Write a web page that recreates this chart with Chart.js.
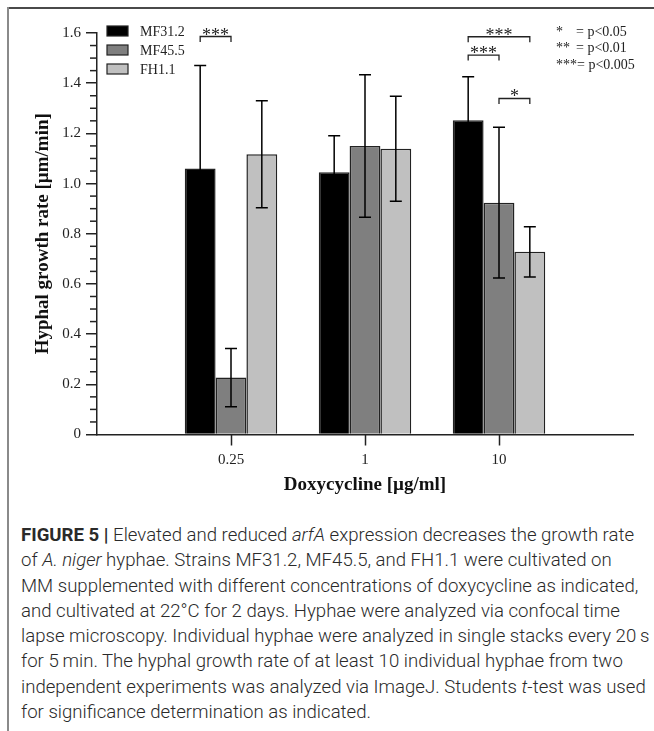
<!DOCTYPE html>
<html><head><meta charset="utf-8">
<script src="https://cdn.jsdelivr.net/npm/chart.js@4.4.1/dist/chart.umd.min.js"></script>
<style>
html,body{margin:0;padding:0;background:#fff;}
#wrap{position:relative;width:654px;height:731px;overflow:hidden;background:#fff;}
#c{position:absolute;left:0;top:0;}
.ftop{position:absolute;left:7px;top:7px;width:647px;height:2px;background:#4a4a4a;}
.fleft{position:absolute;left:7px;top:7px;width:2px;height:724px;background:#8a8a8a;}
#cap{position:absolute;left:21px;top:523px;font-family:Roboto,"Liberation Sans",sans-serif;font-weight:300;font-size:18.6px;line-height:25.3px;color:#2a2a2a;white-space:nowrap;}
#cap b{font-weight:700;}
</style></head><body>
<div id="wrap">
<canvas id="c" width="654" height="500"></canvas>
<div class="ftop"></div><div class="fleft"></div>
<div id="cap"><b>FIGURE 5 |</b> Elevated and reduced <i>arfA</i> expression decreases the growth rate<br>of <i>A. niger</i> hyphae. Strains MF31.2, MF45.5, and FH1.1 were cultivated on<br>MM supplemented with different concentrations of doxycycline as indicated,<br>and cultivated at 22°C for 2 days. Hyphae were analyzed via confocal time<br>lapse microscopy. Individual hyphae were analyzed in single stacks every 20&#8201;s<br>for 5&#8201;min. The hyphal growth rate of at least 10 individual hyphae from two<br>independent experiments was analyzed via ImageJ. Students <i>t</i>-test was used<br>for significance determination as indicated.</div>
</div>
<script>
const categories = ['', '0.25', '1', '10', ''];
const seriesNames = ['MF31.2', 'MF45.5', 'FH1.1'];
const mf312 = [null, 1.06, 1.045, 1.252, null];
const mf312Err = [null, 0.41, 0.146, 0.174, null];
const mf455 = [null, 0.227, 1.150, 0.924, null];
const mf455Err = [null, 0.116, 0.284, 0.300, null];
const fh11 = [null, 1.117, 1.139, 0.728, null];
const fh11Err = [null, 0.213, 0.209, 0.100, null];
const yMin = 0, yMax = 1.6, yStep = 0.2, yMinorStep = 0.05;
const sigBrackets = [
  {cat: 1, from: 0, to: 1, y: 1.586, label: '***'},
  {cat: 3, from: 0, to: 2, y: 1.585, label: '***'},
  {cat: 3, from: 0, to: 1, y: 1.512, label: '***'},
  {cat: 3, from: 1, to: 2, y: 1.339, label: '*'}
];
const pLegend = [['*', '= p<0.05'], ['**', '= p<0.01'], ['***= p<0.005', '']];
const xTitle = 'Doxycycline [µg/ml]';
const yTitle = 'Hyphal growth rate [µm/min]';

const errs = [mf312Err, mf455Err, fh11Err];
const SERIF = '"Liberation Serif","Times New Roman",serif';
const AX = '#222';

const errorBars = {
  id: 'errorBars',
  afterDatasetsDraw(chart) {
    const ctx = chart.ctx, ys = chart.scales.y;
    ctx.save();
    ctx.strokeStyle = '#000'; ctx.lineWidth = 1.5;
    chart.data.datasets.forEach((ds, di) => {
      const meta = chart.getDatasetMeta(di);
      meta.data.forEach((el, i) => {
        const v = ds.data[i], e = errs[di][i];
        if (v == null || e == null) return;
        const yt = ys.getPixelForValue(v + e), yb = ys.getPixelForValue(v - e);
        ctx.beginPath();
        ctx.moveTo(el.x, yt); ctx.lineTo(el.x, yb);
        ctx.moveTo(el.x - 6, yt); ctx.lineTo(el.x + 6, yt);
        ctx.moveTo(el.x - 6, yb); ctx.lineTo(el.x + 6, yb);
        ctx.stroke();
      });
    });
    ctx.restore();
  }
};

const extras = {
  id: 'extras',
  afterDraw(chart) {
    const ctx = chart.ctx, ys = chart.scales.y, xs = chart.scales.x, area = chart.chartArea;
    ctx.save();
    ctx.strokeStyle = AX; ctx.lineWidth = 1.5;
    for (let k = 0; k <= Math.round((yMax - yMin) / yMinorStep); k++) {
      if (k % 4 === 0) continue;
      const py = ys.getPixelForValue(yMin + k * yMinorStep);
      ctx.beginPath(); ctx.moveTo(area.left - 7, py); ctx.lineTo(area.left, py); ctx.stroke();
    }
    categories.forEach((c, i) => {
      if (!c) return;
      const px = Math.round(xs.getPixelForValue(i)) + 0.5;
      ctx.beginPath(); ctx.moveTo(px, area.bottom); ctx.lineTo(px, area.bottom + 11); ctx.stroke();
    });
    ctx.lineWidth = 1.3; ctx.strokeStyle = '#222'; ctx.fillStyle = '#222';
    ctx.font = '18px ' + SERIF; ctx.textAlign = 'center'; ctx.textBaseline = 'alphabetic';
    sigBrackets.forEach(b => {
      const x1 = chart.getDatasetMeta(b.from).data[b.cat].x;
      const x2 = chart.getDatasetMeta(b.to).data[b.cat].x;
      const py = ys.getPixelForValue(b.y);
      ctx.beginPath();
      ctx.moveTo(x1, py + 5.5); ctx.lineTo(x1, py); ctx.lineTo(x2, py); ctx.lineTo(x2, py + 5.5);
      ctx.stroke();
      ctx.fillText(b.label, (x1 + x2) / 2, py + 4);
    });
    ctx.font = '14px ' + SERIF; ctx.textAlign = 'left'; ctx.textBaseline = 'middle';
    chart.data.datasets.forEach((ds, di) => {
      const cy = 31 + di * 19;
      ctx.fillStyle = ds.backgroundColor;
      ctx.fillRect(107, cy - 5, 21, 10);
      ctx.strokeStyle = '#222'; ctx.lineWidth = 1.2;
      ctx.strokeRect(107, cy - 5, 21, 10);
      ctx.fillStyle = '#222';
      ctx.fillText(ds.label, 140, cy + 1);
    });
    pLegend.forEach((p, i) => {
      const cy = 32 + i * 16.5;
      ctx.fillText(p[0], 556, cy);
      if (p[1]) ctx.fillText(p[1], 576, cy);
    });
    ctx.restore();
  }
};

new Chart(document.getElementById('c'), {
  type: 'bar',
  data: {
    labels: categories,
    datasets: [
      {label: seriesNames[0], data: mf312, backgroundColor: '#000000', borderColor: '#222', borderWidth: 1.5},
      {label: seriesNames[1], data: mf455, backgroundColor: '#7f7f7f', borderColor: '#222', borderWidth: 1.5},
      {label: seriesNames[2], data: fh11, backgroundColor: '#c0c0c0', borderColor: '#222', borderWidth: 1.5}
    ]
  },
  options: {
    responsive: false,
    animation: false,
    devicePixelRatio: 1,
    layout: {padding: {left: 28, right: 21, top: 33, bottom: 0}},
    barPercentage: 1,
    categoryPercentage: 0.69,
    plugins: {legend: {display: false}, tooltip: {enabled: false}},
    scales: {
      x: {
        offset: false,
        afterFit(s) { s.height = 65.5; },
        grid: {display: false, offset: false},
        border: {display: true, color: AX, width: 1.5},
        ticks: {font: {family: SERIF, size: 15}, color: '#222', padding: 9, maxRotation: 0, autoSkip: false},
        title: {display: true, text: xTitle, font: {family: SERIF, size: 19, weight: 'bold'}, color: '#111', padding: {top: 4, bottom: 4}}
      },
      y: {
        min: yMin, max: yMax,
        afterFit(s) { s.width = 69; },
        grid: {drawOnChartArea: false, drawTicks: true, tickLength: 11, lineWidth: 1.5, color: AX},
        border: {display: true, color: AX, width: 1.5},
        ticks: {stepSize: yStep, font: {family: SERIF, size: 15}, color: '#222', padding: 5,
          callback: v => (Math.abs(v) < 1e-9 ? '0' : Number(v).toFixed(1))},
        title: {display: true, text: yTitle, font: {family: SERIF, size: 19, weight: 'bold'}, color: '#111', padding: {top: 4, bottom: 4}}
      }
    }
  },
  plugins: [errorBars, extras]
});
</script>
</body></html>
